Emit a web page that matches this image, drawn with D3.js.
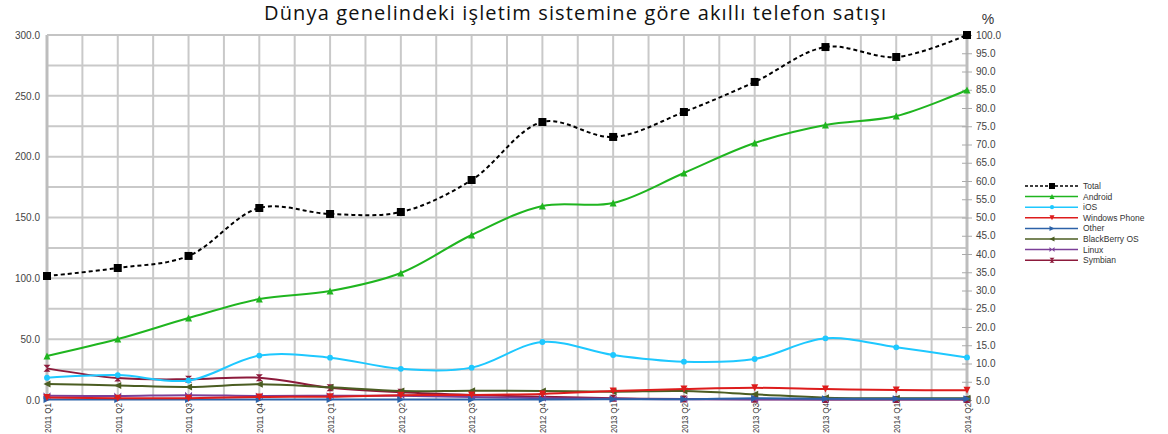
<!DOCTYPE html>
<html><head><meta charset="utf-8">
<script src="https://cdn.jsdelivr.net/npm/d3@7"></script>
<style>
html,body{margin:0;padding:0;background:#fff;}
svg{display:block;}
</style>
</head><body>
<svg id="chart" width="1168" height="434"></svg>
<script>
const quarters = ["2011 Q1","2011 Q2","2011 Q3","2011 Q4","2012 Q1","2012 Q2","2012 Q3","2012 Q4","2013 Q1","2013 Q2","2013 Q3","2013 Q4","2014 Q1","2014 Q2"];
const total      = [101.9,108.5,118.4,157.8,152.9,154.5,180.8,228.5,216.2,236.7,261.4,290.1,281.9,300.0];
const android    = [36.2,50.1,67.4,83.0,89.6,104.4,135.6,159.5,161.9,186.6,211.2,226.0,233.4,254.8];
const ios        = [18.3,20.5,16.0,36.5,34.8,25.6,26.6,47.7,37.0,31.5,33.7,50.7,43.3,35.0];
const windowsPhone = [2.0,1.5,1.5,2.5,2.7,4.0,4.1,5.0,7.4,9.0,10.0,9.0,8.2,8.0];
const other      = [0.4,0.4,0.4,0.5,0.5,0.5,0.5,0.5,0.6,0.6,1.5,1.0,1.0,1.0];
const blackberry = [13.2,12.0,10.7,12.9,10.4,7.4,7.7,7.4,6.8,7.3,4.7,1.9,1.5,1.5];
const linux      = [3.5,3.3,4.0,3.3,3.5,3.5,2.5,1.5,1.0,0.6,0.5,0.4,0.4,0.4];
const symbian    = [26.0,18.0,17.0,18.3,10.1,6.3,4.1,2.7,1.4,0.8,0.6,0.4,0.4,0.4];
const leftTicks  = [0,50,100,150,200,250,300];
const rightTicks = d3.range(0,101,5);

const series = [
  {name:"Total", values:total, color:"#000000", dash:"4,3", marker:"square"},
  {name:"Android", values:android, color:"#1fb51f", marker:"triUp"},
  {name:"iOS", values:ios, color:"#1ec8ff", marker:"circle"},
  {name:"Windows Phone", values:windowsPhone, color:"#dd1c1c", marker:"triDown"},
  {name:"Other", values:other, color:"#2c62a8", marker:"triRight"},
  {name:"BlackBerry OS", values:blackberry, color:"#4b5d22", marker:"triLeft"},
  {name:"Linux", values:linux, color:"#7b3f98", marker:"bowH"},
  {name:"Symbian", values:symbian, color:"#8c1a3b", marker:"bowV"}
];

const svg = d3.select("#chart");
const L = 47, R = 967, T = 35, B = 400;
const x = d3.scalePoint().domain(quarters).range([L, R]);
const y = d3.scaleLinear().domain([0, 300]).range([B, T]);
const yR = d3.scaleLinear().domain([0, 100]).range([B, T]);

// title
svg.append("text").attr("x", 575).attr("y", 20).attr("text-anchor","middle")
  .attr("font-family","'Open Sans', sans-serif").attr("font-size",20).attr("fill","#111")
  .attr("textLength",622).attr("lengthAdjust","spacing")
  .text("Dünya genelindeki işletim sistemine göre akıllı telefon satışı");

// gridlines
const g = svg.append("g");
const step = x.step();
const vx = d3.range(0, quarters.length*2 - 1).map(i => L + i*step/2);
g.selectAll("line.v").data(vx).join("line")
  .attr("x1", d=>d).attr("x2", d=>d).attr("y1", T).attr("y2", B)
  .attr("stroke","#c9c9c9").attr("stroke-width",2);
g.selectAll("line.h").data(d3.range(25,301,25)).join("line")
  .attr("x1", L).attr("x2", R).attr("y1", d=>y(d)).attr("y2", d=>y(d))
  .attr("stroke","#c9c9c9").attr("stroke-width",2);
// axis lines
g.append("line").attr("x1",L).attr("x2",L).attr("y1",T).attr("y2",B).attr("stroke","#bdbdbd").attr("stroke-width",3);
g.append("line").attr("x1",R).attr("x2",R).attr("y1",T).attr("y2",B).attr("stroke","#bdbdbd").attr("stroke-width",3);
g.append("line").attr("x1",L).attr("x2",R).attr("y1",T).attr("y2",T).attr("stroke","#c4c4c4").attr("stroke-width",2);

// left axis
const la = svg.append("g").attr("transform",`translate(${L},0)`)
  .call(d3.axisLeft(y).tickValues(leftTicks).tickFormat(d3.format(".1f")).tickSize(0).tickPadding(7));
la.select(".domain").remove();
la.selectAll("text").attr("font-family","'Liberation Sans', Arial, sans-serif").attr("font-size",10).attr("fill","#444");

// right axis
const ra = svg.append("g").attr("transform",`translate(${R},0)`)
  .call(d3.axisRight(yR).tickValues(rightTicks).tickFormat(d3.format(".1f")).tickSize(5).tickPadding(4));
ra.select(".domain").remove();
ra.selectAll(".tick line").attr("x1",-5).attr("stroke","#aaa");
ra.selectAll("text").attr("font-family","'Liberation Sans', Arial, sans-serif").attr("font-size",10).attr("fill","#444");
svg.append("text").attr("x",988).attr("y",24).attr("text-anchor","middle")
  .attr("font-family","'Liberation Sans', Arial, sans-serif").attr("font-size",14).attr("fill","#333").text("%");

// x axis
const xa = svg.append("g").attr("transform",`translate(0,${B})`)
  .call(d3.axisBottom(x).tickSize(0).tickPadding(0));
xa.select(".domain").remove();
xa.selectAll("text").attr("font-family","'Liberation Sans Narrow', 'Liberation Sans', Arial, sans-serif").attr("font-size",9.5).attr("fill","#333")
  .attr("text-anchor","end").attr("transform","rotate(-90)").attr("x",-3).attr("y",0).attr("dy","0.35em")
  .attr("textLength",30).attr("lengthAdjust","spacingAndGlyphs");

// markers
function markerPath(type, s) {
  const h = s/2;
  switch(type){
    case "square": return `M${-h},${-h}H${h}V${h}H${-h}Z`;
    case "triUp": return `M0,${-h}L${h},${h}L${-h},${h}Z`;
    case "triDown": return `M0,${h}L${h},${-h}L${-h},${-h}Z`;
    case "triRight": return `M${h},0L${-h},${-h}L${-h},${h}Z`;
    case "triLeft": return `M${-h},0L${h},${-h}L${h},${h}Z`;
    case "bowH": return `M${-h},${-h}L0,0L${-h},${h}Z M${h},${-h}L0,0L${h},${h}Z`;
    case "bowV": return `M${-h},${-h}H${h}L0,0Z M${-h},${h}H${h}L0,0Z`;
    case "circle": return d3.symbol(d3.symbolCircle, s*s*0.55)();
  }
}

const line = d3.line().x((d,i)=>x(quarters[i])).y(d=>y(d)).curve(d3.curveCatmullRom.alpha(0.5));
const plot = svg.append("g");
const order = [...series].reverse();
order.forEach(s => {
  plot.append("path").attr("d", line(s.values)).attr("fill","none")
    .attr("stroke", s.color).attr("stroke-width", 2)
    .attr("stroke-dasharray", s.dash || null);
  plot.selectAll(null).data(s.values).join("path")
    .attr("transform",(d,i)=>`translate(${x(quarters[i])},${y(d)})`)
    .attr("d", markerPath(s.marker, s.marker==="square"?8:7)).attr("fill", s.color);
});

// legend
const lg = svg.append("g");
series.forEach((s,i)=>{
  const yy = 186 + i*10.6;
  lg.append("line").attr("x1",1025).attr("x2",1078).attr("y1",yy).attr("y2",yy)
    .attr("stroke",s.color).attr("stroke-width",1.5).attr("stroke-dasharray", s.dash ? "3,2" : null);
  lg.append("path").attr("transform",`translate(1052,${yy})`).attr("d",markerPath(s.marker,s.marker==="square"?6:5)).attr("fill",s.color);
  lg.append("text").attr("x",1083).attr("y",yy).attr("dy","0.35em")
    .attr("font-family","'Liberation Sans', Arial, sans-serif").attr("font-size",8.5).attr("fill","#333").text(s.name);
});
</script>
</body></html>
